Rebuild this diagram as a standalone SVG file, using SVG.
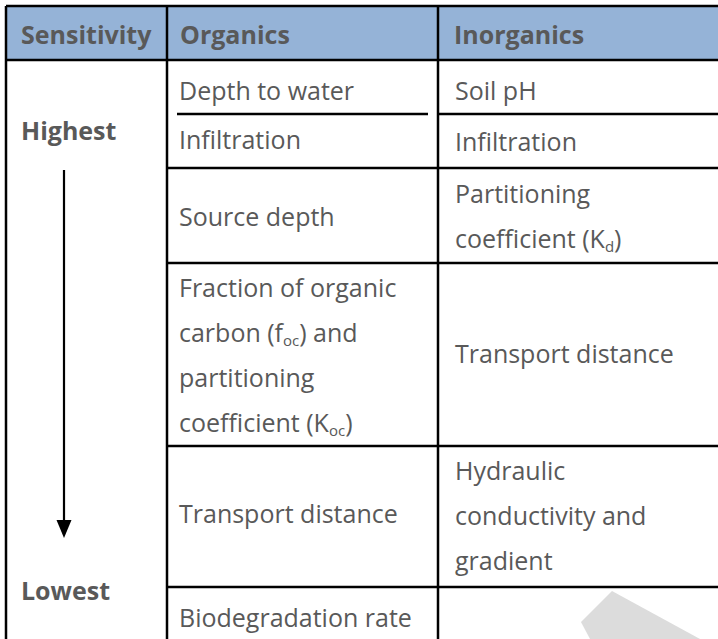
<svg xmlns="http://www.w3.org/2000/svg" width="718" height="639" viewBox="0 0 718 639">
<defs>
<style>
.t{font-family:"Open Sans","Noto Sans","Liberation Sans",sans-serif;font-size:25px;fill:#595959}
.b{font-weight:bold}
.sub{font-size:15px}
.ln{stroke:#000;stroke-width:2.5;fill:none}
</style>
<marker id="ah" markerWidth="8" markerHeight="10" refX="0" refY="0" viewBox="-8 -10 16 10" orient="auto" markerUnits="userSpaceOnUse">
</marker>
</defs>
<rect width="718" height="639" fill="#fff"/>
<polygon points="612,591 581,622 590,639 700,639" fill="#dcdcdc"/>
<rect x="6" y="6" width="712" height="54" fill="#95b3d7"/>
<g id="grid">
<line class="ln" x1="6" y1="6" x2="718" y2="6"/>
<line class="ln" x1="6" y1="60" x2="718" y2="60"/>
<line class="ln" x1="6" y1="6" x2="6" y2="639"/>
<line class="ln" x1="167" y1="6" x2="167" y2="639"/>
<line class="ln" x1="438" y1="6" x2="438" y2="639"/>
<line class="ln" x1="177" y1="114" x2="428" y2="114"/>
<line class="ln" x1="438" y1="114" x2="718" y2="114"/>
<line class="ln" x1="167" y1="168" x2="718" y2="168"/>
<line class="ln" x1="167" y1="263" x2="718" y2="263"/>
<line class="ln" x1="167" y1="446" x2="718" y2="446"/>
<line class="ln" x1="167" y1="587" x2="718" y2="587"/>
</g>
<g id="hdr-sensitivity"><text class="t b" x="21" y="44">Sensitivity</text></g>
<g id="hdr-organics"><text class="t b" x="180" y="44">Organics</text></g>
<g id="hdr-inorganics"><text class="t b" x="454" y="44">Inorganics</text></g>
<g id="highest"><text class="t b" x="21" y="140">Highest</text></g>
<g id="lowest"><text class="t b" x="21" y="600">Lowest</text></g>
<g id="org-1"><text class="t" x="179" y="100">Depth to water</text></g>
<g id="org-2"><text class="t" x="179" y="149">Infiltration</text></g>
<g id="org-3"><text class="t" x="179" y="226">Source depth</text></g>
<g id="org-4">
<text class="t" x="179" y="297">Fraction of organic</text>
<text class="t" x="179" y="342">carbon (f<tspan class="sub" dy="4">oc</tspan><tspan dy="-4">) and</tspan></text>
<text class="t" x="179" y="387">partitioning</text>
<text class="t" x="179" y="432">coefficient (K<tspan class="sub" dy="4">oc</tspan><tspan dy="-4">)</tspan></text>
</g>
<g id="org-5"><text class="t" x="179" y="523">Transport distance</text></g>
<g id="org-6"><text class="t" x="179" y="627">Biodegradation rate</text></g>
<g id="inorg-1"><text class="t" x="455" y="100">Soil pH</text></g>
<g id="inorg-2"><text class="t" x="455" y="151">Infiltration</text></g>
<g id="inorg-3">
<text class="t" x="455" y="203">Partitioning</text>
<text class="t" x="455" y="248">coefficient (K<tspan class="sub" dy="4">d</tspan><tspan dy="-4">)</tspan></text>
</g>
<g id="inorg-4"><text class="t" x="455" y="363">Transport distance</text></g>
<g id="inorg-5">
<text class="t" x="455" y="480">Hydraulic</text>
<text class="t" x="455" y="525">conductivity and</text>
<text class="t" x="455" y="570">gradient</text>
</g>
<g id="connectors">
<line x1="64" y1="170" x2="64" y2="522" stroke="#000" stroke-width="2.2"/>
<polygon points="56.5,520 71.5,520 64,538" fill="#000"/>
</g>
</svg>
